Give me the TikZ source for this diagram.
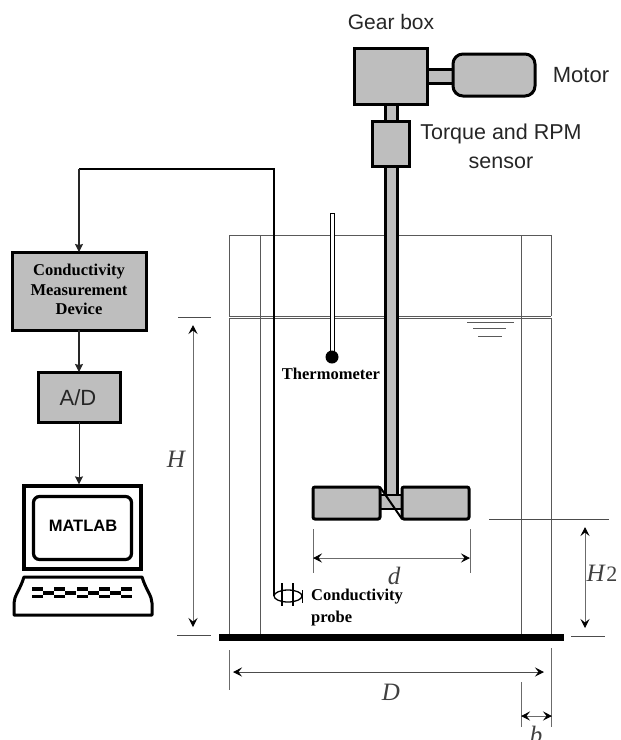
\documentclass[tikz,border=0pt]{standalone}
\usepackage{fontspec}
\setmainfont{Liberation Serif}
\setsansfont{Liberation Sans}
\usetikzlibrary{arrows.meta,shapes.geometric}
\definecolor{fillgray}{gray}{0.745}
\definecolor{dimgray}{gray}{0.42}
\definecolor{tankgray}{gray}{0.35}
\tikzset{
  part/.style={draw=black,fill=fillgray,line width=3pt,inner sep=0pt,outer sep=0pt},
  instr/.style={part,line width=3pt},
  sanslabel/.style={font=\sffamily\fontsize{21}{28}\selectfont,color=black!85,align=center,inner sep=0pt},
  boldlabel/.style={font=\bfseries\fontsize{16.5}{19.5}\selectfont,align=center,inner sep=0pt},
  varlabel/.style={font=\itshape\fontsize{25}{28}\selectfont,color=black!75,inner sep=0pt},
  dimarrow/.style={draw=dimgray,line width=1pt,{Stealth[length=9pt,width=9pt,inset=3.5pt,color=black]}-{Stealth[length=9pt,width=9pt,inset=3.5pt,color=black]}},
  dimtick/.style={draw=dimgray,line width=1pt},
  tankline/.style={draw=tankgray,line width=0.9pt},
  wire/.style={draw=black,line width=1.3pt},
  flow/.style={draw=black!85,line width=1.2pt,-{Stealth[length=8pt,width=8pt,inset=1pt]}},
}
\begin{document}
\begin{tikzpicture}[x=1pt,y=-1pt]
\useasboundingbox (0,0) rectangle (621,740);
\clip (0,0) rectangle (621,740);
% tank
\coordinate (tl) at (229,235); \coordinate (tr) at (551,235);
\coordinate (ml) at (229,316); \coordinate (mr) at (551,316);
\coordinate (ml2) at (229,318); \coordinate (mr2) at (551,318);
\coordinate (bl) at (229,635); \coordinate (br) at (551,635);
\draw[tankline] (ml) -- (tl) -- (tr) -- (mr);
\draw[tankline] (ml) -- (mr);
\draw[tankline] (ml2) -- (mr2);
\draw[tankline] (ml2) -- (bl);
\draw[tankline] (mr2) -- (br);
\coordinate (bfl1) at (260,235); \coordinate (bfl2) at (260,635);
\coordinate (bfr1) at (521,235); \coordinate (bfr2) at (521,635);
\draw[tankline] (bfl1) -- (bfl2);
\draw[tankline] (bfr1) -- (bfr2);
% water level
\coordinate (w1a) at (467,322); \coordinate (w1b) at (514,322);
\coordinate (w2a) at (473,328.5); \coordinate (w2b) at (506,328.5);
\coordinate (w3a) at (478,336); \coordinate (w3b) at (502,336);
\draw[tankline] (w1a) -- (w1b) (w2a) -- (w2b) (w3a) -- (w3b);
% base
\node[fill=black,inner sep=0pt,minimum width=345pt,minimum height=7pt] (base) at (391.5,637.5) {};
% drive train
\node[part,minimum width=12pt,minimum height=18pt] (shafttop) at (391,112) {};
\node[part,minimum width=12pt,minimum height=330pt] (shaft) at (391,330) {};
\node[part,minimum width=28pt,minimum height=14pt] (shaftm) at (440,76) {};
\node[part,minimum width=73pt,minimum height=56pt] (gear) at (390.5,76) {};
\node[part,minimum width=82pt,minimum height=42pt,rounded corners=10pt] (motor) at (494,75) {};
\node[part,minimum width=37pt,minimum height=45pt] (sensor) at (390.5,143.5) {};
% impeller
\node[part,line width=2pt,minimum width=24pt,minimum height=14pt] (hub) at (391,502) {};
\node[part,rounded corners=2pt,minimum width=67pt,minimum height=32pt] (bladeL) at (346.5,503) {};
\node[part,rounded corners=2pt,minimum width=67pt,minimum height=32pt] (bladeR) at (435.5,503) {};
\draw[black,line width=2pt] (bladeL.north east) -- (bladeR.south west);
% labels top
\node[sanslabel] (lgear) at (391,22) {Gear box};
\node[sanslabel,font=\sffamily\fontsize{22}{28}\selectfont] (lmotor) at (581,75) {Motor};
\node[sanslabel,font=\sffamily\fontsize{21.5}{29}\selectfont] (ltorque) at (501,146.5) {Torque and RPM\\sensor};
% thermometer
\node[draw=black,fill=white,line width=1pt,inner sep=0pt,minimum width=4pt,minimum height=142pt] (tube) at (332,284) {};
\node[circle,fill=black,inner sep=0pt,minimum size=13pt] (bulb) at (332,357) {};
\node[boldlabel] (lthermo) at (331,374) {Thermometer};
% instruments
\node[instr,minimum width=134pt,minimum height=78pt] (cond) at (79,291) {};
\node[boldlabel] (lcond) at (79,289.5) {Conductivity\\Measurement\\Device};
\node[instr,minimum width=82pt,minimum height=50pt] (ad) at (79,397) {};
\node[sanslabel,font=\sffamily\fontsize{22}{24}\selectfont] (lad) at (78,398) {A/D};
% computer
\node[draw=black,fill=white,line width=3.2pt,inner sep=0pt,minimum width=117pt,minimum height=83pt] (monitor) at (82.5,527.5) {};
\node[draw=black,fill=white,line width=3.2pt,rounded corners=6pt,inner sep=0pt,minimum width=98pt,minimum height=63pt] (screen) at (82.5,528) {};
\node[font=\sffamily\bfseries\fontsize{16.5}{20}\selectfont,inner sep=0pt] (lmatlab) at (83,526) {MATLAB};
\draw[black,line width=3pt,line join=round] (24,577) -- (142,577) .. controls (146,590) and (152,596) .. (152,603) -- (152,615) -- (14,615) -- (14,603) .. controls (14,596) and (20,590) .. (24,577) -- cycle;
\foreach \x in {32,54,77,99,121}{
  \fill[black] (\x,587) rectangle ++(11,3.5);
  \fill[black] (\x,594.5) rectangle ++(11,3.5);
}
\foreach \x in {43,65,88,110}{
  \fill[black] (\x,590.5) rectangle ++(11,4);
}
% connectors
\coordinate (wcorner1) at (79,169);
\coordinate (wcorner2) at (274,169);
\coordinate (pstart) at (274,596);
\draw[wire] (pstart) -- (wcorner2) -- (wcorner1);
\draw[flow] (wcorner1) -- (cond.north);
\draw[flow] (cond.south) -- (ad.north);
\draw[flow,line width=0.9pt] (ad.south) -- (ad.south |- monitor.north);
% probe
\node[draw=black,line width=1.3pt,ellipse,inner sep=0pt,minimum width=28pt,minimum height=12pt] (probe) at (288,596) {};
\coordinate (t1a) at (282,583); \coordinate (t1b) at (282,606);
\coordinate (t2a) at (293,583); \coordinate (t2b) at (293,606);
\coordinate (t3a) at (302,590); \coordinate (t3b) at (302,603);
\draw[black,line width=1.2pt] (t1a) -- (t1b) (t2a) -- (t2b);
\draw[black,line width=1pt] (t3a) -- (t3b);
\node[boldlabel,align=left,anchor=north west,font=\bfseries\fontsize{16.5}{21.5}\selectfont] (lprobe) at (311,589) {Conductivity\\probe};
% H
\coordinate (ha) at (178,317); \coordinate (hb) at (211,317);
\coordinate (hc) at (177,635); \coordinate (hd) at (211,635);
\draw[dimtick,draw=black!70] (ha) -- (hb) (hc) -- (hd);
\coordinate (h1) at (193,317); \coordinate (h2) at (193,635);
\draw[dimarrow,shorten >=8pt,shorten <=8pt] (h1) -- (h2);
\node[varlabel] (lH) at (176,459) {H};
% H2
\coordinate (ia) at (489,519); \coordinate (ib) at (609,519);
\coordinate (ic) at (571,636); \coordinate (id) at (605,636);
\draw[dimtick,draw=black!70] (ia) -- (ib) (ic) -- (id);
\coordinate (i1) at (585,519); \coordinate (i2) at (585,636);
\draw[dimarrow,shorten >=8pt,shorten <=8pt] (i1) -- (i2);
\node[varlabel] (lH2) at (602,573) {H\kern1.5pt\textup{\fontsize{22}{22}\selectfont 2}};
% d
\coordinate (da) at (313,529); \coordinate (db) at (313,573);
\coordinate (dc) at (470,529); \coordinate (dd) at (470,573);
\draw[dimtick] (da) -- (db) (dc) -- (dd);
\coordinate (d1) at (313,558); \coordinate (d2) at (470,558);
\draw[dimarrow] (d1) -- (d2);
\node[varlabel] (ld) at (394,576) {d};
% D
\coordinate (ea) at (229,650); \coordinate (eb) at (229,690);
\coordinate (ec) at (551,648); \coordinate (ed) at (551,727);
\coordinate (fa) at (521,682); \coordinate (fb) at (521,727);
\draw[dimtick] (ea) -- (eb) (ec) -- (ed) (fa) -- (fb);
\coordinate (e1) at (233,672); \coordinate (e2) at (544,672);
\draw[dimarrow,draw=black!70] (e1) -- (e2);
\node[varlabel] (lD) at (391,692) {D};
\coordinate (f1) at (521,716); \coordinate (f2) at (552,716);
\draw[dimarrow] (f1) -- (f2);
\node[varlabel] (lb) at (536,735) {b};
\end{tikzpicture}
\end{document}
